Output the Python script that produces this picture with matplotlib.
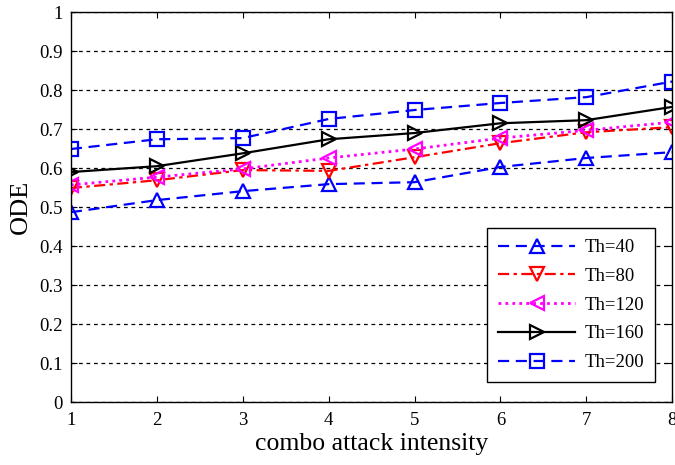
import matplotlib
matplotlib.use("Agg")
import matplotlib.pyplot as plt

x = [1, 2, 3, 4, 5, 6, 7, 8]
th40 = [0.487, 0.518, 0.541, 0.559, 0.564, 0.603, 0.626, 0.641]
th80 = [0.549, 0.569, 0.595, 0.593, 0.628, 0.664, 0.692, 0.705]
th120 = [0.557, 0.577, 0.598, 0.626, 0.649, 0.677, 0.697, 0.718]
th160 = [0.590, 0.605, 0.638, 0.674, 0.690, 0.715, 0.723, 0.757]
th200 = [0.649, 0.674, 0.677, 0.726, 0.749, 0.767, 0.782, 0.822]
labels = ["Th=40", "Th=80", "Th=120", "Th=160", "Th=200"]
yticks = [0, 0.1, 0.2, 0.3, 0.4, 0.5, 0.6, 0.7, 0.8, 0.9, 1]
ytick_labels = ["0", "0.1", "0.2", "0.3", "0.4", "0.5", "0.6", "0.7", "0.8", "0.9", "1"]

plt.rcParams['font.family'] = ['Liberation Serif', 'DejaVu Serif']

fig = plt.figure(figsize=(6.75, 4.65), dpi=100)
ax = fig.add_axes([0.105, 0.135, 0.891, 0.839])

ms = 9.5
lw = 1.6
ax.plot(x, th40, color='#0000ff', linestyle=(0, (5, 3)), marker='^', ms=ms, mfc='none', mew=1.6, lw=lw, label=labels[0])
ax.plot(x, th80, color='#ff0000', linestyle=(0, (5, 2, 1.5, 2)), marker='v', ms=ms, mfc='none', mew=1.6, lw=lw, label=labels[1])
ax.plot(x, th120, color='#ff00ff', linestyle=(0, (1, 1.5)), marker='<', ms=ms, mfc='none', mew=1.6, lw=2.0, label=labels[2])
ax.plot(x, th160, color='black', linestyle='-', marker='>', ms=ms, mfc='none', mew=1.6, lw=lw, label=labels[3])
ax.plot(x, th200, color='#0000ff', linestyle=(0, (5, 3)), marker='s', ms=ms, mfc='none', mew=1.6, lw=lw, label=labels[4])

ax.set_xlim(1, 8)
ax.set_ylim(0, 1)
ax.set_xticks(x)
ax.set_yticks(yticks)
ax.set_yticklabels(ytick_labels)
ax.tick_params(direction='in', labelsize=13.5, length=4, top=True, right=True, colors='black')
ax.tick_params(axis='x', pad=7)
ax.tick_params(axis='y', pad=6)
ax.yaxis.grid(True, linestyle=(0, (3, 3)), color='black', linewidth=0.9)
for s in ax.spines.values():
    s.set_linewidth(1.0)

ax.set_xlabel("combo attack intensity", fontsize=18.5, labelpad=3)
ax.set_ylabel("ODE", fontsize=19, labelpad=5)

leg = ax.legend(loc='lower right', bbox_to_anchor=(0.972, 0.051), borderaxespad=0, fontsize=13.5, frameon=True,
                fancybox=False, edgecolor='black', framealpha=1, handlelength=4.1, labelspacing=0.62,
                borderpad=0.6, handletextpad=0.5)
leg.get_frame().set_linewidth(1.0)

fig.savefig("out.png", dpi=100)
